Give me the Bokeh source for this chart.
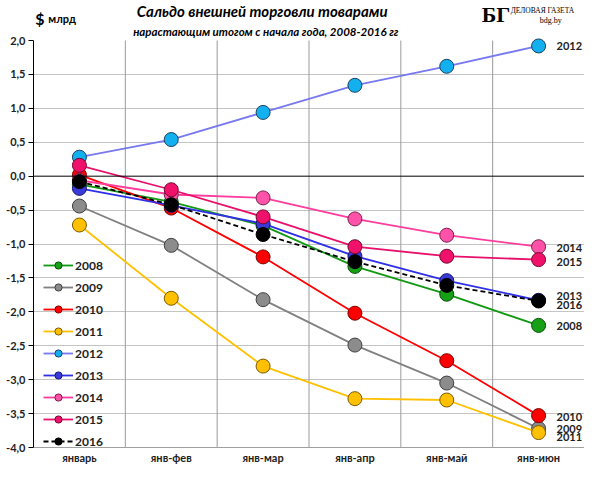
from bokeh.plotting import figure
from bokeh.models import (Range1d, FixedTicker, CustomJSTickFormatter, Span, Label,
                          Legend, LegendItem)
from bokeh.embed import file_html
from bokeh.resources import INLINE

# data, $ bn, cumulative since January
months = ["январь", "янв-фев", "янв-мар", "янв-апр", "янв-май", "янв-июн"]
years = ["2008", "2009", "2010", "2011", "2012", "2013", "2014", "2015", "2016"]
y2008 = [-0.12, -0.38, -0.73, -1.33, -1.74, -2.20]
y2009 = [-0.44, -1.02, -1.82, -2.49, -3.05, -3.72]
y2010 = [0.02, -0.47, -1.19, -2.02, -2.72, -3.53]
y2011 = [-0.72, -1.80, -2.80, -3.28, -3.30, -3.78]
y2012 = [0.28, 0.54, 0.94, 1.34, 1.62, 1.92]
y2013 = [-0.18, -0.43, -0.70, -1.18, -1.54, -1.83]
y2014 = [-0.06, -0.27, -0.32, -0.63, -0.87, -1.04]
y2015 = [0.16, -0.20, -0.60, -1.04, -1.18, -1.23]
y2016 = [-0.08, -0.42, -0.86, -1.26, -1.61, -1.84]
y_ticks = [-4.0, -3.5, -3.0, -2.5, -2.0, -1.5, -1.0, -0.5, 0.0, 0.5, 1.0, 1.5, 2.0]
y_min, y_max = -4.0, 2.0

series = [y2008, y2009, y2010, y2011, y2012, y2013, y2014, y2015, y2016]
line_colors = ["#119911", "#808080", "#ff0000", "#ffc000", "#7878f0",
               "#2f2fe8", "#ff3d9e", "#e8106a", "#000000"]
fill_colors = ["#16a016", "#8c8c8c", "#ff0000", "#ffc000", "#12b0ee",
               "#3a3ad8", "#ff52a8", "#f0126a", "#000000"]
edge_colors = ["#0a4d0a", "#404040", "#7a0000", "#7a5a00", "#1f4060",
               "#161670", "#7a1f4c", "#700830", "#000000"]
# vertical nudges for the end labels so overlapping ones stay readable
label_nudge = [-1, 0, -1, -4, 0, 4, -1, -2, -4]

FONT = "Lato"
xs = [i + 0.5 for i in range(len(months))]
nan = float("nan")

# the frame runs up to the top of the canvas so the headings can sit inside it
p = figure(width=584, height=467, output_backend="svg", toolbar_location=None,
           x_range=Range1d(0, len(months)), y_range=Range1d(y_min, 2.59),
           min_border_left=33, min_border_right=0, min_border_top=0,
           min_border_bottom=20)
p.outline_line_color = None
p.background_fill_color = "white"

p.xaxis.ticker = FixedTicker(ticks=xs)
p.xaxis.formatter = CustomJSTickFormatter(args=dict(labels=months),
                                          code="return labels[Math.floor(tick)];")
p.xaxis.major_tick_line_color = None
p.xaxis.major_tick_out = 0
p.xaxis.major_tick_in = 0
p.xaxis.minor_tick_line_color = None
p.xaxis.axis_line_color = "#a0a0a0"
p.xaxis.major_label_standoff = 3
p.xaxis.major_label_text_font = FONT
p.xaxis.major_label_text_font_style = "bold"
p.xaxis.major_label_text_font_size = "11px"
p.xaxis.major_label_text_color = "#222222"

p.yaxis.ticker = FixedTicker(ticks=y_ticks)
p.yaxis.bounds = (y_min, y_max)
p.yaxis.formatter = CustomJSTickFormatter(code="return tick.toFixed(1).replace('.', ',');")
p.yaxis.axis_line_color = "black"
p.yaxis.major_tick_line_color = "black"
p.yaxis.major_tick_out = 5
p.yaxis.major_tick_in = 0
p.yaxis.minor_tick_line_color = None
p.yaxis.major_label_standoff = 3
p.yaxis.major_label_text_font = FONT
p.yaxis.major_label_text_font_style = "bold"
p.yaxis.major_label_text_font_size = "11px"
p.yaxis.major_label_text_color = "#222222"

p.xgrid.grid_line_color = None
p.ygrid.ticker = FixedTicker(ticks=[t for t in y_ticks if t not in (0.0, y_max, y_min)])
p.ygrid.grid_line_color = "#c4c4c4"
# category separators, only over the value area
seps = list(range(1, len(months)))
p.segment(x0=seps, y0=[y_min] * len(seps), x1=seps, y1=[y_max] * len(seps),
          line_color="#9a9a9a", line_width=1)
p.add_layout(Span(location=0, dimension="width", line_color="black", line_width=1))

items = []
for yr, ys, lc, fc, ec in zip(years, series, line_colors, fill_colors, edge_colors):
    dash = "5 3" if yr == "2016" else "solid"
    lr = p.line(xs, ys, line_color=lc, line_width=1.8, line_dash=dash)
    p.scatter(xs, ys, size=14, fill_color=fc, line_color=ec, line_width=1)
    # small marker only for the legend swatch
    lg = p.scatter([nan], [nan], size=9, fill_color=fc, line_color=ec, line_width=1)
    items.append(LegendItem(label=yr, renderers=[lr, lg]))

legend = Legend(items=items, location=(10, -3), orientation="vertical")
legend.glyph_width = 30
legend.glyph_height = 18
legend.label_height = 18
legend.spacing = 4
legend.padding = 0
legend.margin = 0
legend.label_standoff = 2
legend.label_text_font = FONT
legend.label_text_font_style = "bold"
legend.label_text_font_size = "12px"
legend.label_text_color = "#222222"
legend.border_line_color = None
legend.background_fill_alpha = 0
p.add_layout(legend, "center")

# year tags at the end of every line
for yr, ys, nudge in zip(years, series, label_nudge):
    p.add_layout(Label(x=xs[-1], y=ys[-1], text=yr, x_offset=18, y_offset=nudge,
                       text_baseline="middle", text_font=FONT, text_font_style="bold",
                       text_font_size="11px", text_color="#222222"))

# headings
p.add_layout(Label(x=2.49, y=2.43, text="Сальдо внешней торговли товарами",
                   text_align="center", text_baseline="middle", text_font=FONT,
                   text_font_style="bold italic", text_font_size="15px", text_color="black"))
p.add_layout(Label(x=2.53, y=2.135, text="нарастающим итогом с начала года, 2008-2016 гг",
                   text_align="center", text_baseline="middle", text_font=FONT,
                   text_font_style="bold italic", text_font_size="11.5px", text_color="black"))
p.add_layout(Label(x=0.02, y=2.32, text="$", text_baseline="middle", text_font=FONT,
                   text_font_style="bold", text_font_size="16px", text_color="black"))
p.add_layout(Label(x=0.02, y=2.32, x_offset=13, text="млрд", text_baseline="middle",
                   text_font=FONT, text_font_style="bold", text_font_size="11px",
                   text_color="black"))
# newspaper logo
p.add_layout(Label(x=4.88, y=2.38, text="БГ", text_baseline="middle",
                   text_font="Liberation Serif", text_font_style="bold",
                   text_font_size="22px", text_color="black"))
p.add_layout(Label(x=4.88, y=2.445, x_offset=29, text="ДЕЛОВАЯ ГАЗЕТА",
                   text_baseline="middle", text_font="Liberation Serif",
                   text_font_size="7.5px", text_color="black"))
p.add_layout(Label(x=4.88, y=2.29, x_offset=58, text="bdg.by", text_baseline="middle",
                   text_font="Liberation Serif", text_font_size="8px", text_color="black"))

open("out.html", "w").write(file_html(p, INLINE))
